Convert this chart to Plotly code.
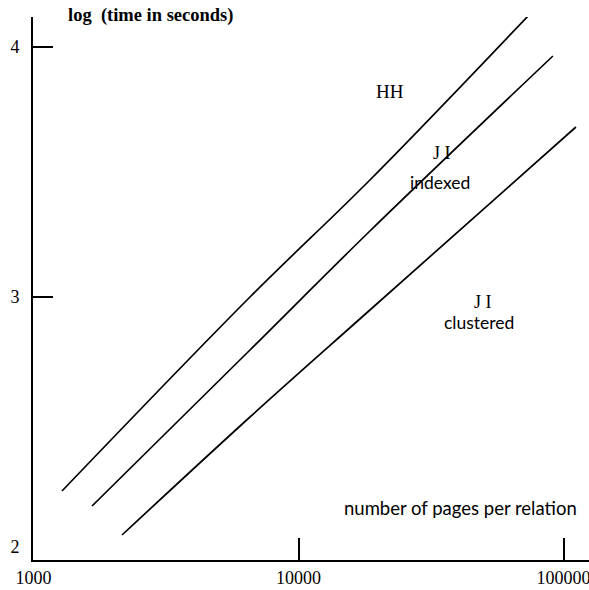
import plotly.graph_objects as go

# Data (x: pages per relation, y: log10 time in seconds)
hh_x = [1281, 6560, 18600, 75340]
hh_y = [2.224, 3.00, 3.468, 4.136]
ji_idx_x = [1663, 6560, 18600, 91200]
ji_idx_y = [2.164, 2.788, 3.264, 3.964]
ji_cl_x = [2158, 6560, 18600, 111400]
ji_cl_y = [2.048, 2.52, 2.948, 3.68]

x_ticks = [1000, 10000, 100000]
x_tick_text = ["1000", "10000", "100000"]
y_ticks = [2, 3, 4]
y_tick_text = ["2", "3", "4"]
y_marked = [3, 4]

serif = "Liberation Serif"
sans = "Lato"

fig = go.Figure()
for xs, ys in [(hh_x, hh_y), (ji_idx_x, ji_idx_y), (ji_cl_x, ji_cl_y)]:
    fig.add_trace(go.Scatter(x=xs, y=ys, mode="lines",
                             line=dict(color="black", width=1.7, shape="spline", smoothing=1.0),
                             showlegend=False, hoverinfo="skip"))

# invisible trace on y2 so that axis shows
fig.add_trace(go.Scatter(x=[hh_x[0]], y=[hh_y[0]], yaxis="y2", mode="markers",
                         marker=dict(opacity=0), showlegend=False, hoverinfo="skip"))

xr = [3 - 0.5 / 265, 3 + (589 - 33.5) / 265]
yr = [1.948, 4.12]

fig.update_layout(
    width=589, height=590,
    margin=dict(l=33, r=0, t=17, b=30),
    paper_bgcolor="white", plot_bgcolor="white",
    xaxis=dict(type="log", range=xr, tickvals=x_ticks, ticktext=x_tick_text,
               ticks="inside", ticklen=22, tickwidth=1.5, tickcolor="black",
               showline=True, linecolor="black", linewidth=2, automargin=False,
               showgrid=False, zeroline=False, ticklabeloverflow="allow",
               tickfont=dict(family=serif, size=18, color="black")),
    yaxis=dict(range=yr, tickvals=y_ticks, ticktext=y_tick_text,
               ticks="", showline=True, linecolor="black", linewidth=2,
               showgrid=False, zeroline=False, ticklabelstandoff=8, automargin=False,
               tickfont=dict(family=serif, size=18, color="black")),
    yaxis2=dict(range=yr, overlaying="y", side="left", tickvals=y_marked,
                ticks="inside", ticklen=20, tickwidth=1.5, tickcolor="black", automargin=False,
                showticklabels=False, showline=False, showgrid=False, zeroline=False),
)

def ann(text, x, y, family, size, **kw):
    fig.add_annotation(text=text, x=x, y=y, xref="paper", yref="paper",
                       xanchor="center", yanchor="middle", showarrow=False,
                       font=dict(family=family, size=size, color="black"), **kw)

# paper coords helpers: page pixel -> paper
def px(xp):
    return (xp - 33) / (589 - 33)

def py(yp):
    return (560 - yp) / (560 - 17)

ann("<b>log  (time in seconds)</b>", px(150), py(15), serif, 18.5)
ann("HH", px(390), py(92), serif, 19)
ann("J I", px(442), py(153), serif, 18)
ann("indexed", px(440), py(182), sans, 17.5)
ann("J I", px(483), py(302), serif, 18)
ann("clustered", px(479), py(322), sans, 17.5)
ann("number of pages per relation", px(460), py(508), sans, 18.5)

fig.write_html(
    "out.html",
    config={"displayModeBar": False},
    post_script="document.body.style.margin='0';document.body.style.overflow='hidden';",
)
